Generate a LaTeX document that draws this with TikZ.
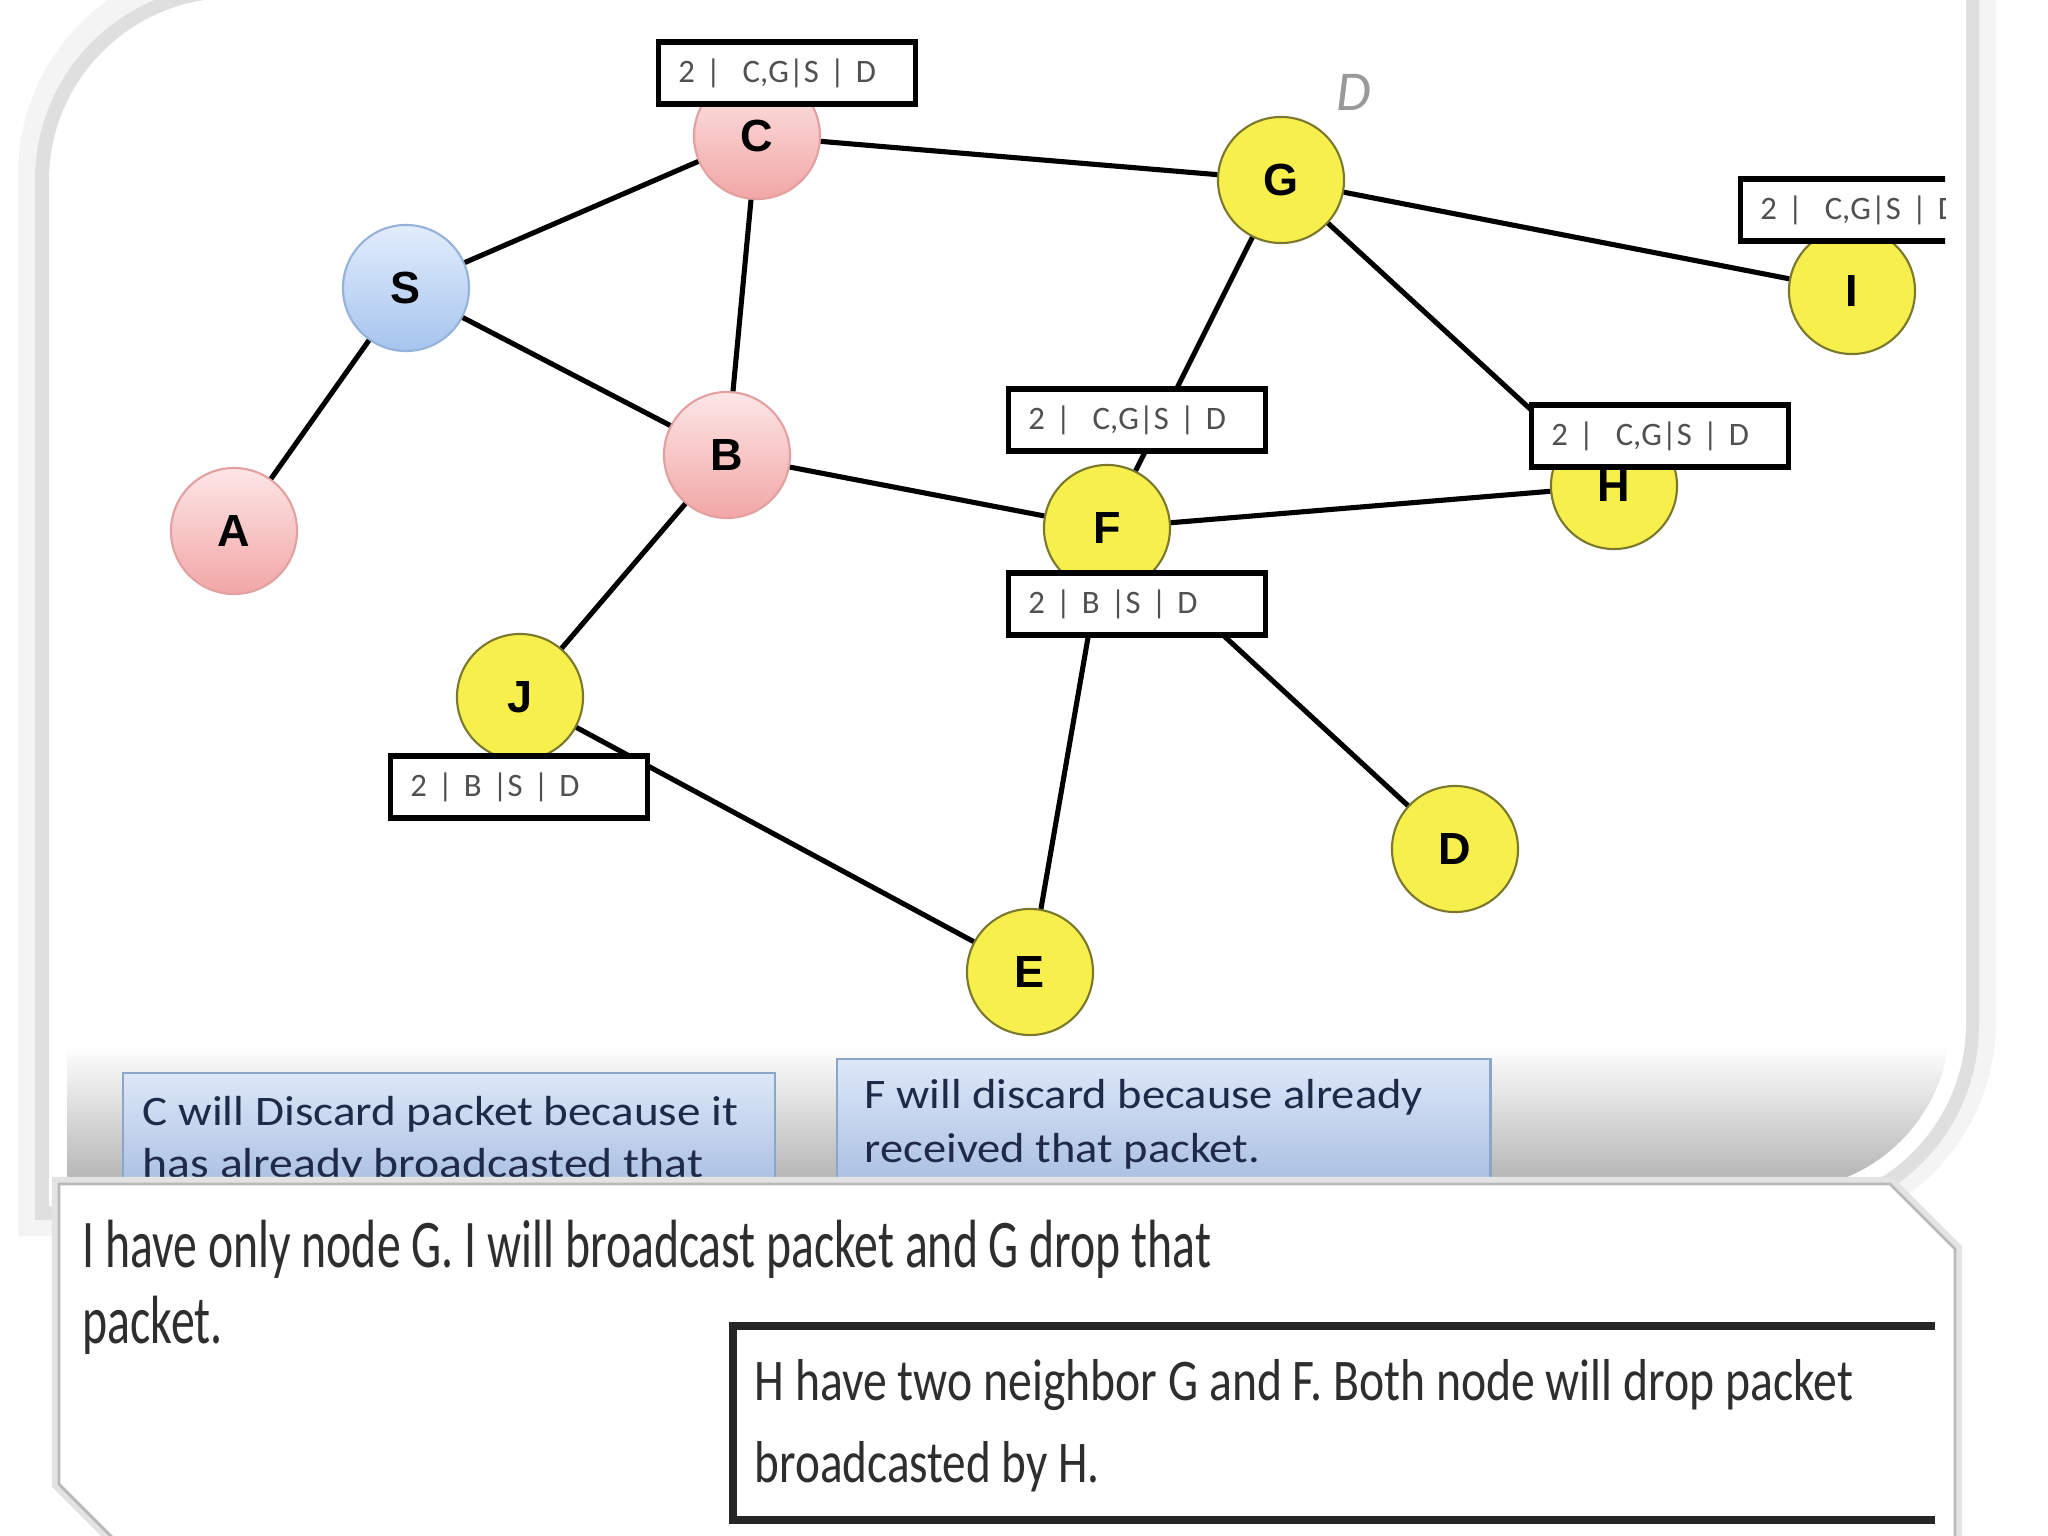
\documentclass[tikz,border=0pt]{standalone}
\usepackage{graphicx}
\usepackage{fontspec}
\setmainfont{Carlito}
\newfontfamily\arialfont{Liberation Sans}
\definecolor{pinkT}{HTML}{FDE6E6}
\definecolor{pinkB}{HTML}{F2A6A6}
\definecolor{pinkE}{HTML}{E3A0A0}
\definecolor{blueT}{HTML}{E2EDFC}
\definecolor{blueB}{HTML}{A6C4EE}
\definecolor{blueE}{HTML}{95B2DA}
\definecolor{yel}{HTML}{F7EF4C}
\definecolor{yelE}{HTML}{7A782C}
\definecolor{boxT}{HTML}{DDE8F8}
\definecolor{boxB}{HTML}{A2B9DF}
\definecolor{boxE}{HTML}{8CA5CB}
\definecolor{navy}{HTML}{1E2A48}
\definecolor{txt}{HTML}{2E2E2E}
\definecolor{lbl}{HTML}{505050}
\newcommand\fitw[2]{\resizebox{#1}{\height}{#2}}
\begin{document}
\begin{tikzpicture}[x=0.01cm, y=-0.01cm,
  vert/.style={circle, minimum size=1.26cm, inner sep=0pt, line width=0.6pt,
    font=\arialfont\bfseries\fontsize{12.8}{15}\selectfont},
  pinkv/.style={vert, draw=pinkE, top color=pinkT, bottom color=pinkB},
  bluev/.style={vert, draw=blueE, top color=blueT, bottom color=blueB},
  yelv/.style={vert, draw=yelE, fill=yel},
  edge/.style={line width=1.45pt, black},
  lab/.style={draw=black, fill=white, line width=1.6pt, rectangle,
    inner xsep=0.2cm, inner ysep=0pt, minimum height=0.62cm, text width=2.17cm,
    align=left, text=lbl, font=\fontsize{9.3}{11}\selectfont},
  bluebox/.style={draw=boxE, line width=0.6pt, top color=boxT, bottom color=boxB,
    rectangle, inner sep=0pt, anchor=north west},
  btext/.style={anchor=base west, inner sep=0pt, text=navy, font=\fontsize{11.95}{14}\selectfont},
  ctext/.style={anchor=base west, inner sep=0pt, text=txt},
]
\useasboundingbox (0,0) rectangle (2048,1536);
\clip (0,0) rectangle (2048,1536);
\fill[white] (0,0) rectangle (2048,1536);
% slide panel (top-left and bottom-right rounded) with soft shadow
\fill[gray!9] (1996,-40) -- (1996,1021) .. controls (1996,1140) and (1900,1236) .. (1781,1236)
  -- (18,1236) -- (18,175) .. controls (18,56) and (114,-40) .. (233,-40) -- cycle;
\fill[gray!25] (1979,-15) -- (1979,1025) .. controls (1979,1133) and (1892,1220) .. (1784,1220)
  -- (35,1220) -- (35,180) .. controls (35,72) and (122,-15) .. (230,-15) -- cycle;
\fill[white] (1966,-2) -- (1966,1023) .. controls (1966,1124) and (1884,1206) .. (1783,1206)
  -- (49,1206) -- (49,181) .. controls (49,80) and (131,-2) .. (232,-2) -- cycle;
\begin{scope}
  \clip (1950,14) -- (1950,1022) .. controls (1950,1115) and (1875,1190) .. (1782,1190)
    -- (67,1190) -- (67,182) .. controls (67,89) and (142,14) .. (235,14) -- cycle;
  \shade[top color=white, bottom color=gray!62] (0,1045) rectangle (2048,1190);
\end{scope}

% vertices
\node[pinkv] (C) at (757,136) {C};
\node[bluev] (S) at (406,288) {S};
\node[pinkv] (A) at (234,531) {A};
\node[pinkv] (B) at (727,455) {B};
\node[yelv] (J) at (520,697) {J};
\node[yelv] (G) at (1281,180) {G};
\node[yelv] (I) at (1852,291) {I};
\node[yelv] (F) at (1107,528) {F};
\node[yelv] (H) at (1614,486) {H};
\node[yelv] (D) at (1455,849) {D};
\node[yelv] (E) at (1030,972) {E};

% links
\draw[edge] (S) -- (C);
\draw[edge] (S) -- (A);
\draw[edge] (S) -- (B);
\draw[edge] (C) -- (B);
\draw[edge] (C) -- (G);
\draw[edge] (G) -- (I);
\draw[edge] (G) -- (F);
\draw[edge] (G) -- (H);
\draw[edge] (B) -- (F);
\draw[edge] (F) -- (H);
\draw[edge] (B) -- (J);
\draw[edge] (J) -- (E);
\draw[edge] (F) -- (E);
\draw[edge] (F) -- (D);

% route labels
\node[lab] (lc) at (787,73) {2 |~~C,G|S | D};
\node[lab] (lf1) at (1137,420) {2 |~~C,G|S | D};
\node[lab] (lh) at (1660,436) {2 |~~C,G|S | D};
\node[lab] (lf2) at (1137,604) {2 | B |S | D};
\node[lab] (lj) at (519,787) {2 | B |S | D};
\begin{scope}
  \clip (1700,150) rectangle (1945,270);
  \node[lab] (li) at (1869,210) {2 |~~C,G|S | D};
\end{scope}

% stray D
\node[inner sep=0pt, text=gray!80, font=\itshape\fontsize{16}{18}\selectfont] (dd) at (1354,92) {D};

% blue notes
\node[bluebox, minimum width=6.52cm, minimum height=1.3cm] (cbox) at (122,1072) {};
\node[bluebox, minimum width=6.53cm, minimum height=1.44cm] (fbox) at (836,1058) {};
\node[btext] (c1) at (142,1125) {\fitw{5.95cm}{C will Discard packet because it}};
\node[btext] (c2) at (142,1177) {\fitw{5.60cm}{has already broadcasted that}};
\node[btext] (f1) at (864,1108) {\fitw{5.58cm}{F will discard because already}};
\node[btext] (f2) at (864,1162) {\fitw{3.95cm}{received that packet.}};

% bottom callout
\draw[gray!22, line width=4pt] (59,1184) -- (1890,1184) -- (1955,1249) -- (1955,1560) -- (135,1560) -- (59,1484) -- cycle;
\filldraw[fill=white, draw=gray!55, line width=0.8pt] (59,1184) -- (1890,1184) -- (1955,1249) -- (1955,1560) -- (135,1560) -- (59,1484) -- cycle;
\node[ctext, font=\fontsize{19.4}{22}\selectfont] (t1) at (82,1267) {\fitw{11.28cm}{I have only node G. I will broadcast packet and G drop that}};
\node[ctext, font=\fontsize{19.4}{22}\selectfont] (t2) at (82,1343) {\fitw{1.40cm}{packet.}};

% H note
\draw[line width=2.2pt, black!85] (1935,1326) -- (733,1326) -- (733,1520) -- (1935,1520);
\node[ctext, font=\fontsize{16.8}{20}\selectfont] (h1) at (754,1400) {\fitw{10.98cm}{H have two neighbor G and F. Both node will drop packet}};
\node[ctext, font=\fontsize{16.8}{20}\selectfont] (h2) at (754,1482) {\fitw{3.45cm}{broadcasted by H.}};
\end{tikzpicture}
\end{document}
